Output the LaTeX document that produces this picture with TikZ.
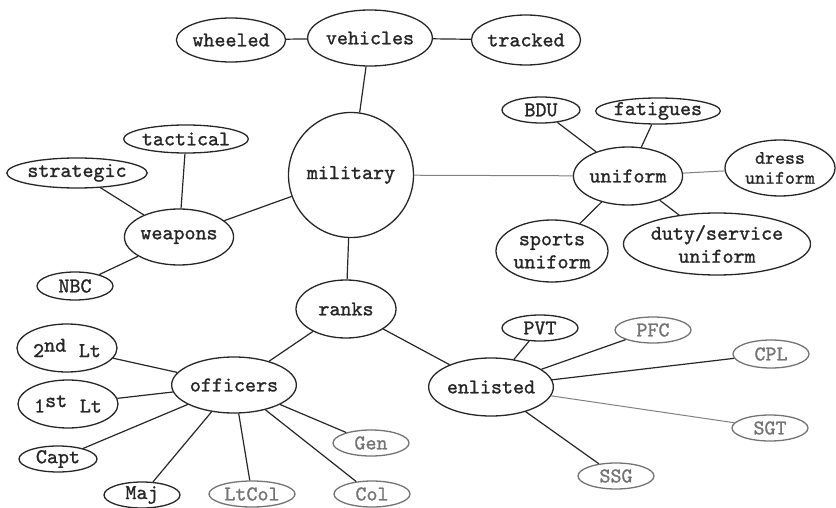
\documentclass[tikz,border=0pt]{standalone}
\usepackage{fontspec}
\newfontfamily\twr{lmmono10-regular.otf}[FakeBold=1.2]
\usetikzlibrary{shapes.geometric}
\tikzset{
  bub/.style={ellipse, draw=black!85, line width=1.3pt, inner sep=0pt, font=\fontsize{21}{23}\twr, align=center, text=black!85},
  faint/.style={draw=black!55, text=black!55},
  link/.style={draw=black!85, line width=1.2pt},
  flink/.style={draw=black!50, line width=1pt}
}
\begin{document}
\begin{tikzpicture}[x=1pt,y=-1pt]
\useasboundingbox (0,0) rectangle (836,508);
% top
\node[bub, minimum width=92pt, minimum height=56pt] (veh) at (370,38) {vehicles};
\node[bub, minimum width=102pt, minimum height=44pt] (whe) at (231,40) {wheeled};
\node[bub, minimum width=104pt, minimum height=50pt] (tra) at (526,40) {tracked};
\node[bub, circle, minimum size=125pt] (mil) at (351,175) {military};
\node[bub, minimum width=100pt, minimum height=58pt] (ran) at (346,309) {ranks};
% weapons
\node[bub, minimum width=102pt, minimum height=56pt] (wea) at (179,237) {weapons};
\node[bub, minimum width=124pt, minimum height=28pt] (tac) at (186,139) {tactical};
\node[bub, minimum width=136pt, minimum height=30pt] (str) at (77,173) {strategic};
\node[bub, minimum width=76pt, minimum height=28pt] (nbc) at (75,286) {NBC};
% uniform
\node[bub, minimum width=102pt, minimum height=58pt] (uni) at (628,176) {uniform};
\node[bub, minimum width=78pt, minimum height=26pt] (bdu) at (541,110) {BDU};
\node[bub, minimum width=120pt, minimum height=26pt] (fat) at (658,111) {fatigues};
\node[bub, minimum width=110pt, minimum height=56pt, font=\fontsize{19}{20}\twr] (dre) at (780,168) {dress\\uniform};
\node[bub, minimum width=112pt, minimum height=62pt] (spo) at (552,251) {sports\\uniform};
\node[bub, minimum width=166pt, minimum height=62pt] (dut) at (717,244) {duty/service\\uniform};
% officers
\node[bub, minimum width=108pt, minimum height=56pt] (off) at (234,385) {officers};
\node[bub, minimum width=100pt, minimum height=48pt] (lt2) at (67,348) {2\raisebox{0.6ex}{nd}\hspace{0.6em}Lt};
\node[bub, minimum width=100pt, minimum height=48pt] (lt1) at (68,404) {1\raisebox{0.6ex}{st}\hspace{0.6em}Lt};
\node[bub, minimum width=78pt, minimum height=26pt] (cap) at (58,459) {Capt};
\node[bub, minimum width=76pt, minimum height=26pt] (maj) at (142,495) {Maj};
\node[bub, faint, minimum width=86pt, minimum height=26pt] (ltc) at (252,494) {LtCol};
\node[bub, faint, minimum width=76pt, minimum height=26pt] (col) at (372,494) {Col};
\node[bub, faint, minimum width=76pt, minimum height=26pt] (gen) at (371,443) {Gen};
% enlisted
\node[bub, minimum width=106pt, minimum height=58pt] (enl) at (491,387) {enlisted};
\node[bub, minimum width=76pt, minimum height=26pt] (pvt) at (540,328) {PVT};
\node[bub, faint, minimum width=76pt, minimum height=26pt] (pfc) at (653,330) {PFC};
\node[bub, faint, minimum width=76pt, minimum height=28pt] (cpl) at (771,354) {CPL};
\node[bub, faint, minimum width=76pt, minimum height=26pt] (sgt) at (770,428) {SGT};
\node[bub, faint, minimum width=76pt, minimum height=26pt] (ssg) at (616,476) {SSG};
% links
\draw[link] (whe) -- (veh);
\draw[link] (veh) -- (tra);
\draw[link] (veh) -- (mil);
\draw[link] (mil) -- (wea);
\draw[flink] (mil) -- (uni);
\draw[link] (mil) -- (ran);
\draw[link] (wea) -- (tac);
\draw[link] (wea) -- (str);
\draw[link] (wea) -- (nbc);
\draw[link] (uni) -- (bdu);
\draw[link] (uni) -- (fat);
\draw[flink] (uni) -- (dre);
\draw[link] (uni) -- (spo);
\draw[link] (uni) -- (dut);
\draw[link] (ran) -- (off);
\draw[link] (ran) -- (enl);
\draw[link] (off) -- (lt2);
\draw[link] (off) -- (lt1);
\draw[link] (off) -- (cap);
\draw[link] (off) -- (maj);
\draw[link] (off) -- (ltc);
\draw[link] (off) -- (col);
\draw[link] (off) -- (gen);
\draw[link] (enl) -- (pvt);
\draw[link] (enl) -- (pfc);
\draw[link] (enl) -- (cpl);
\draw[flink] (enl) -- (sgt);
\draw[link] (enl) -- (ssg);
\end{tikzpicture}
\end{document}
